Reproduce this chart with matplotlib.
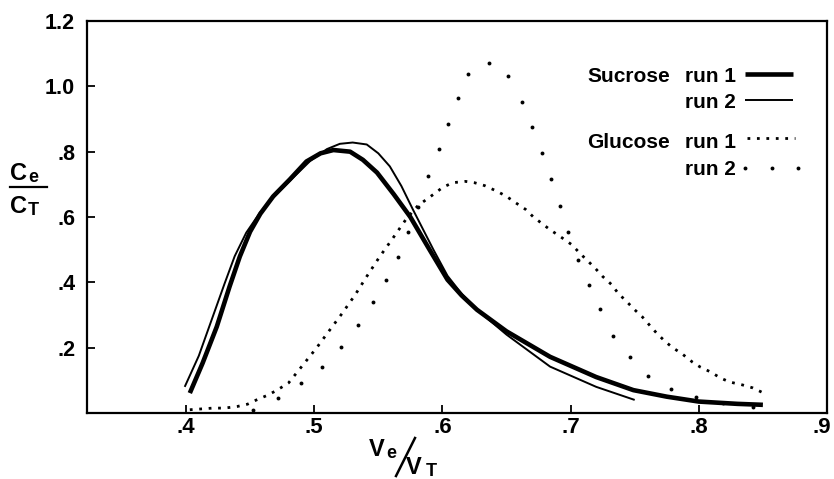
import matplotlib
matplotlib.use("Agg")
import matplotlib.pyplot as plt
from matplotlib.lines import Line2D
from matplotlib.transforms import ScaledTranslation

plt.rcParams['font.family'] = ['Liberation Sans', 'DejaVu Sans']
plt.rcParams['font.weight'] = 'bold'

# ---------------- data ----------------
sucrose_run1_x = [0.403, 0.413, 0.424, 0.434, 0.442, 0.450, 0.458, 0.468, 0.481, 0.494,
                  0.505, 0.515, 0.528, 0.538, 0.549, 0.562, 0.575, 0.590, 0.604, 0.615,
                  0.627, 0.650, 0.684, 0.720, 0.749, 0.775, 0.800, 0.830, 0.850]
sucrose_run1_y = [0.061, 0.153, 0.264, 0.387, 0.479, 0.555, 0.610, 0.663, 0.715, 0.770,
                  0.795, 0.805, 0.800, 0.775, 0.736, 0.670, 0.600, 0.500, 0.408, 0.360,
                  0.316, 0.250, 0.172, 0.110, 0.070, 0.050, 0.035, 0.028, 0.025]

sucrose_run2_x = [0.399, 0.410, 0.420, 0.430, 0.438, 0.447, 0.458, 0.470, 0.484, 0.497,
                  0.510, 0.520, 0.530, 0.541, 0.550, 0.559, 0.568, 0.577, 0.593, 0.604,
                  0.615, 0.627, 0.650, 0.684, 0.720, 0.750]
sucrose_run2_y = [0.080, 0.175, 0.285, 0.395, 0.480, 0.552, 0.615, 0.668, 0.722, 0.772,
                  0.808, 0.824, 0.828, 0.822, 0.795, 0.755, 0.695, 0.623, 0.500, 0.420,
                  0.365, 0.316, 0.240, 0.142, 0.080, 0.040]

glucose_run1_x = [0.403, 0.421, 0.430, 0.440, 0.448, 0.455, 0.464, 0.471, 0.480, 0.490,
                  0.502, 0.511, 0.522, 0.532, 0.541, 0.551, 0.561, 0.572, 0.581, 0.588,
                  0.594, 0.600, 0.608, 0.618, 0.625, 0.633, 0.643, 0.650, 0.657, 0.665,
                  0.671, 0.684, 0.692, 0.701, 0.707, 0.719, 0.725, 0.732, 0.737, 0.744,
                  0.750, 0.756, 0.762, 0.767, 0.774, 0.780, 0.787, 0.795, 0.801, 0.809,
                  0.817, 0.824, 0.834, 0.842, 0.849]
glucose_run1_y = [0.010, 0.015, 0.015, 0.020, 0.027, 0.040, 0.055, 0.070, 0.092, 0.141,
                  0.200, 0.248, 0.306, 0.362, 0.418, 0.478, 0.533, 0.595, 0.635, 0.655,
                  0.672, 0.690, 0.705, 0.709, 0.705, 0.696, 0.678, 0.663, 0.644, 0.623,
                  0.600, 0.561, 0.540, 0.515, 0.490, 0.444, 0.418, 0.393, 0.367, 0.340,
                  0.316, 0.294, 0.267, 0.245, 0.218, 0.199, 0.181, 0.156, 0.141, 0.126,
                  0.107, 0.095, 0.086, 0.077, 0.064]

glucose_run2_x = [0.452, 0.472, 0.490, 0.506, 0.521, 0.534, 0.546, 0.556, 0.565, 0.573,
                  0.581, 0.589, 0.597, 0.604, 0.612, 0.620, 0.636, 0.651, 0.662, 0.670,
                  0.678, 0.685, 0.692, 0.698, 0.706, 0.714, 0.723, 0.733, 0.746, 0.760,
                  0.778, 0.798, 0.819, 0.842]
glucose_run2_y = [0.010, 0.046, 0.092, 0.141, 0.202, 0.270, 0.340, 0.408, 0.479, 0.555,
                  0.632, 0.727, 0.807, 0.886, 0.963, 1.037, 1.070, 1.031, 0.951, 0.874,
                  0.797, 0.715, 0.635, 0.555, 0.469, 0.393, 0.319, 0.236, 0.172, 0.113,
                  0.074, 0.049, 0.031, 0.019]

x_ticks = [0.4, 0.5, 0.6, 0.7, 0.8, 0.9]
x_tick_labels = ['.4', '.5', '.6', '.7', '.8', '.9']
y_ticks = [0.2, 0.4, 0.6, 0.8, 1.0, 1.2]
y_tick_labels = ['.2', '.4', '.6', '.8', '1.0', '1.2']

legend_groups = ['Sucrose', '', 'Glucose', '']
legend_runs = ['run 1', 'run 2', 'run 1', 'run 2']

# ---------------- figure ----------------
W, H = 834, 479
fig = plt.figure(figsize=(W / 100, H / 100), dpi=100)


def fx(px):
    return px / W


def fy(py):
    return 1 - py / H


ax = fig.add_axes([fx(87), fy(413), (827 - 87) / W, (413 - 21) / H])
ax.set_xlim(0.3228, 0.9)
ax.set_ylim(0, 1.2)

ax.plot(sucrose_run1_x, sucrose_run1_y, color='black', lw=3.3,
        solid_capstyle='butt', solid_joinstyle='round')
ax.plot(sucrose_run2_x, sucrose_run2_y, color='black', lw=1.4,
        solid_capstyle='butt', solid_joinstyle='round')
ax.plot(glucose_run1_x, glucose_run1_y, color='black', lw=2.0,
        linestyle=(0, (1, 2.4)), dash_capstyle='butt')
ax.plot(glucose_run2_x, glucose_run2_y, color='black', linestyle='none',
        marker='o', ms=2.8, mew=0)

for s in ax.spines.values():
    s.set_linewidth(1.6)
    s.set_color('black')

ax.set_xticks(x_ticks)
ax.set_xticklabels(x_tick_labels)
ax.set_yticks(y_ticks)
ax.set_yticklabels(y_tick_labels)
ax.tick_params(axis='both', direction='in', length=5.5, width=1.3, colors='black')
ax.tick_params(axis='x', pad=3, labelsize=16)
ax.tick_params(axis='y', pad=8.5, labelsize=15.5)

# keep the last x tick label inside the picture, as in the original
last = ax.get_xticklabels()[-1]
last.set_transform(last.get_transform() + ScaledTranslation(-5 / 100, 0, fig.dpi_scale_trans))

# ---------------- legend (drawn by hand, as in the original) ----------------
row_base = [82, 108, 148, 175]
row_line = [74, 100, 138, 168]
for grp, run, yb in zip(legend_groups, legend_runs, row_base):
    if grp:
        fig.text(fx(587), fy(yb), grp, ha='left', va='baseline', fontsize=15,
                 fontweight='bold')
    fig.text(fx(736), fy(yb), run, ha='right', va='baseline', fontsize=15,
             fontweight='bold')

fig.add_artist(Line2D([fx(745), fx(793)], [fy(row_line[0])] * 2, color='black',
                      lw=3.3, solid_capstyle='butt'))
fig.add_artist(Line2D([fx(745), fx(793)], [fy(row_line[1])] * 2, color='black',
                      lw=1.4, solid_capstyle='butt'))
fig.add_artist(Line2D([fx(747), fx(795)], [fy(row_line[2])] * 2, color='black',
                      lw=2.0, linestyle=(0, (1, 2.4)), dash_capstyle='butt'))
fig.add_artist(Line2D([fx(745), fx(772), fx(798)], [fy(row_line[3])] * 3,
                      color='black', linestyle='none', marker='o', ms=2.8, mew=0))

# ---------------- axis labels ----------------
# y label: Ce / CT as a fraction
fig.text(fx(10), fy(180), 'C', ha='left', va='baseline', fontsize=17, fontweight='bold')
fig.text(fx(28), fy(182), 'e', ha='left', va='baseline', fontsize=13, fontweight='bold')
fig.add_artist(Line2D([fx(10), fx(47)], [fy(187), fy(187)], color='black', lw=1.6))
fig.text(fx(10), fy(213), 'C', ha='left', va='baseline', fontsize=17, fontweight='bold')
fig.text(fx(28), fy(215), 'T', ha='left', va='baseline', fontsize=13, fontweight='bold')

# x label: Ve / VT
fig.text(fx(369), fy(456), 'V', ha='left', va='baseline', fontsize=17, fontweight='bold')
fig.text(fx(386), fy(458), 'e', ha='left', va='baseline', fontsize=13, fontweight='bold')
fig.add_artist(Line2D([fx(396), fx(415)], [fy(476), fy(438)], color='black', lw=1.8))
fig.text(fx(406), fy(474), 'V', ha='left', va='baseline', fontsize=17, fontweight='bold')
fig.text(fx(426), fy(476), 'T', ha='left', va='baseline', fontsize=13, fontweight='bold')

fig.savefig('out.png', dpi=100)
